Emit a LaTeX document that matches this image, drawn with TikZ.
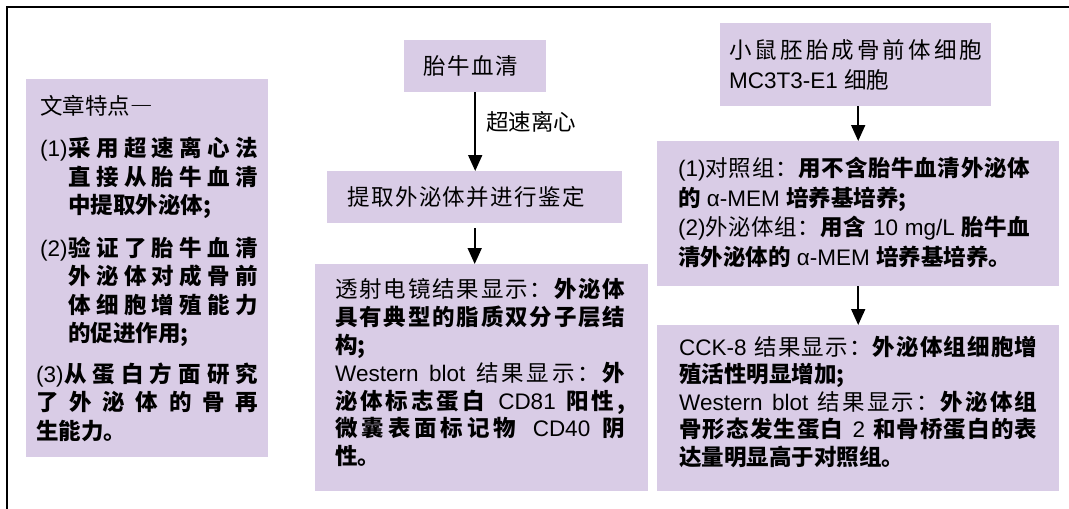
\documentclass[tikz,border=0pt]{standalone}
\usepackage{fontspec}
\setmainfont{Liberation Sans}
\newfontfamily\cjk{Noto Sans CJK SC}
\usetikzlibrary{arrows.meta}
\pretolerance=-1
\tolerance=10000
\hbadness=10000
\definecolor{lav}{RGB}{217,204,230}
\def\spx#1{\ifx#1\relax\else#1\hskip0pt plus 2pt\relax\expandafter\spx\fi}
\newcommand\zr[1]{{\cjk\mdseries\relax\spx#1\relax}}
\newcommand\zb[1]{{\cjk\bfseries\relax\spx#1\relax}}
\newcommand\upby[1]{\par\kern#1\hrule height0pt width0pt}
\begin{document}
\begin{tikzpicture}[x=1pt,y=-1pt,
  box/.style={fill=lav, draw=none, inner sep=0pt},
  para/.style={box, align=justify},
  fs/.style={font=\fontsize{22.5pt}{#1}\selectfont},
  arr/.style={line width=1.8pt, -{Triangle[width=14pt,length=16pt]}},
]
\useasboundingbox (0,0) rectangle (1069,509);
\draw[line width=1.3pt] (7,509) -- (7,7) -- (1069,7);

% left box
\node[para, anchor=north west, minimum width=242pt, minimum height=378pt,
      text width=222pt, fs=28.5pt] (feat) at (26,79) {%
\parindent=0pt\parskip=14pt\leftskip=4pt
{\cjk 文章特点\addfontfeatures{CharacterWidth=Full}—}\par
\hangindent=28pt\hangafter=1 \makebox[28pt][l]{(1)}\zb{采用超速离心法}\linebreak
\zb{直接从胎牛血清}\linebreak
\zb{中提取外泌体;}\par
\hangindent=28pt\hangafter=1 \makebox[28pt][l]{(2)}\zb{验证了胎牛血清}\linebreak
\zb{外泌体对成骨前}\linebreak
\zb{体细胞增殖能力}\linebreak
\zb{的促进作用;}\par
\parskip=12pt
\hangindent=28pt\hangafter=1 \makebox[28pt][l]{(3)}\zb{从蛋白方面研究}\linebreak
\zb{了外泌体的骨再}\linebreak
\zb{生能力。}};

% middle column
\node[box, anchor=north west, minimum width=142pt, minimum height=52pt, fs=28pt]
  (tq) at (404,40) {\makebox[95pt][s]{\zr{胎牛血清}\unskip}\hspace*{9pt}};
\node[box, anchor=north west, minimum width=295pt, minimum height=52pt, fs=28pt]
  (ext) at (327,171) {\makebox[238pt][s]{\zr{提取外泌体并进行鉴定}\unskip}\hspace*{17pt}};
\node[para, anchor=north west, minimum width=333pt, minimum height=227pt,
      text width=293pt, fs=27.8pt] (res1) at (315,264) {%
\parindent=0pt\rightskip=3pt
\zr{透射电镜结果显示：}\zb{外泌体}\linebreak
\zb{具有典型的脂质双分子层结}\linebreak
\zb{构;}\par
Western blot \zr{结果显示：}\zb{外}\linebreak
\zb{泌体标志蛋白} CD81 \zb{阳性,}\linebreak
\zb{微囊表面标记物} CD40 \zb{阴}\linebreak
\zb{性。}\upby{10pt}};
\node[anchor=west, fs=28pt, inner sep=0pt] (lbl) at (486,122) {\zr{超速离心}};

% right column
\node[para, anchor=north west, minimum width=271pt, minimum height=83pt,
      text width=253pt, fs=30pt] (cell) at (720,23) {%
\parindent=0pt\leftskip=11pt
\zr{小鼠胚胎成骨前体细胞}\linebreak
MC3T3-E1 \zr{细胞}};
\node[para, anchor=north west, minimum width=402pt, minimum height=145pt,
      text width=360pt, fs=29.5pt] (grp) at (657,141) {%
\parindent=0pt\rightskip=8pt
(1)\zr{对照组：}\zb{用不含胎牛血清外泌体}\linebreak
\zb{的} α-MEM \zb{培养基培养;}\par
(2)\zr{外泌体组：}\zb{用含} 10 mg/L \zb{胎牛血}\linebreak
\zb{清外泌体的} α-MEM \zb{培养基培养。}\upby{3pt}};
\node[para, anchor=north west, minimum width=402pt, minimum height=166pt,
      text width=358pt, fs=27.5pt] (cck) at (657,325) {%
\parindent=0pt
CCK-8 \zr{结果显示：}\zb{外泌体组细胞增}\linebreak
\zb{殖活性明显增加;}\par
Western blot \zr{结果显示：}\zb{外泌体组}\linebreak
\zb{骨形态发生蛋白} 2 \zb{和骨桥蛋白的表}\linebreak
\zb{达量明显高于对照组。}\upby{13pt}};

% connectors
\draw[arr] (tq.south) -- (tq.south |- ext.north);
\draw[arr, shorten <=5pt] (ext.south) -- (ext.south |- res1.north);
\draw[arr] (grp.north |- cell.south) -- (grp.north);
\draw[arr] (grp.south) -- (cck.north);
\end{tikzpicture}
\end{document}
